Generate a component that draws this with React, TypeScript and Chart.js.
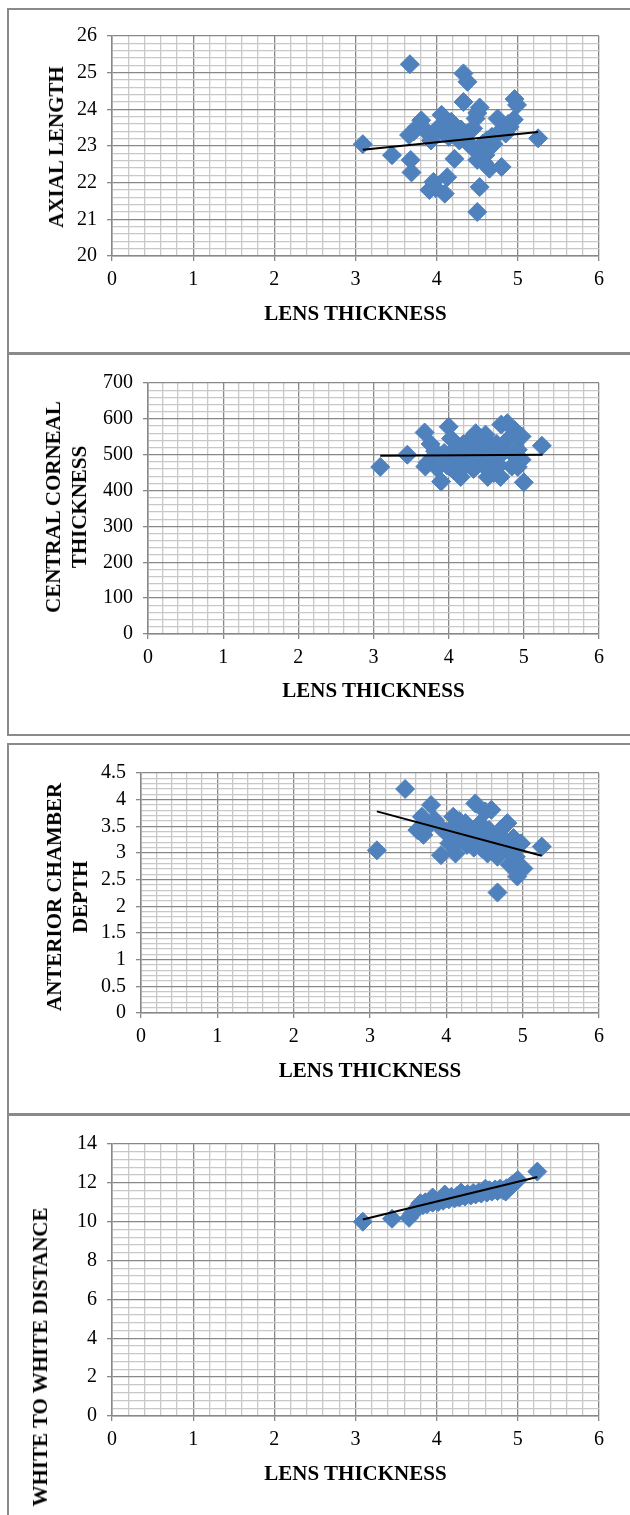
import React, { useRef, useEffect } from 'react';
import { Chart, registerables } from 'chart.js';

Chart.register(...registerables);

// Lens thickness vs axial length
const alLens = [3.09, 3.45, 3.67, 3.68, 3.69, 3.66, 3.72, 3.76, 3.81, 3.85, 3.88, 3.93, 3.91, 3.96, 3.99, 4.03, 4.06, 4.09, 4.10, 4.13, 4.15, 4.18, 4.20, 4.22, 4.25, 4.28, 4.30, 4.33, 4.38, 4.33, 4.38, 4.40, 4.43, 4.45, 4.48, 4.50, 4.53, 4.50, 4.53, 4.50, 4.55, 4.57, 4.60, 4.62, 4.65, 4.68, 4.70, 4.75, 4.78, 4.80, 4.85, 4.88, 4.90, 4.95, 4.96, 4.99, 5.25, 4.58, 4.12, 3.98];
const axialLength = [23.05, 22.75, 25.23, 22.62, 22.28, 23.30, 23.40, 23.52, 23.70, 23.45, 23.38, 23.15, 21.80, 22.02, 21.85, 23.52, 23.85, 23.35, 21.70, 22.15, 23.25, 23.66, 23.45, 22.65, 23.35, 23.15, 23.45, 24.98, 24.75, 24.20, 23.35, 23.05, 22.98, 23.48, 23.75, 23.90, 24.05, 22.62, 21.88, 21.20, 22.80, 23.07, 22.75, 23.16, 22.38, 23.25, 23.05, 23.75, 23.40, 22.43, 23.34, 23.60, 23.52, 23.72, 24.28, 24.12, 23.21, 22.55, 23.55, 23.40];
const alTrendLens = [3.09, 5.25];
const alTrend = [22.9, 23.38];

// Lens thickness vs central corneal thickness
const cctLens = [3.09, 3.45, 3.68, 3.69, 3.72, 3.76, 3.79, 3.82, 3.85, 3.90, 3.90, 3.94, 4.00, 4.03, 4.05, 4.07, 4.10, 4.12, 4.16, 4.17, 4.20, 4.22, 4.25, 4.28, 4.30, 4.33, 4.36, 4.38, 4.40, 4.44, 4.46, 4.49, 4.52, 4.52, 4.54, 4.57, 4.60, 4.62, 4.64, 4.67, 4.69, 4.70, 4.74, 4.78, 4.81, 4.84, 4.86, 4.88, 4.92, 4.92, 4.97, 4.97, 5.00, 5.24, 4.14, 4.58, 4.35, 3.98];
const cct = [466, 500, 562, 467, 478, 530, 492, 510, 462, 425, 478, 505, 578, 545, 490, 456, 520, 449, 438, 514, 530, 470, 486, 505, 545, 460, 560, 523, 490, 477, 540, 556, 458, 438, 514, 480, 449, 495, 530, 470, 438, 584, 510, 588, 547, 467, 500, 568, 514, 466, 551, 486, 423, 525, 485, 525, 500, 470];
const cctTrendLens = [3.09, 5.25];
const cctTrend = [497, 500];

// Lens thickness vs anterior chamber depth
const acdLens = [3.09, 3.46, 3.62, 3.68, 3.70, 3.72, 3.80, 3.80, 3.85, 3.91, 3.93, 3.98, 4.04, 4.06, 4.09, 4.12, 4.14, 4.17, 4.20, 4.22, 4.25, 4.27, 4.30, 4.33, 4.36, 4.38, 4.41, 4.44, 4.46, 4.48, 4.51, 4.54, 4.56, 4.59, 4.60, 4.62, 4.65, 4.67, 4.67, 4.69, 4.72, 4.75, 4.77, 4.80, 4.83, 4.85, 4.88, 4.91, 4.93, 4.96, 4.98, 5.01, 5.25, 4.44, 4.12];
const acd = [3.05, 4.20, 3.43, 3.68, 3.34, 3.52, 3.90, 3.56, 3.62, 3.50, 2.96, 3.40, 3.18, 3.45, 3.68, 2.99, 3.37, 3.60, 3.25, 3.50, 3.56, 3.15, 3.35, 3.43, 3.10, 3.93, 3.31, 3.55, 3.09, 3.40, 3.78, 2.99, 3.43, 3.81, 3.20, 3.25, 3.05, 2.93, 2.26, 3.34, 3.45, 3.15, 3.12, 3.56, 2.78, 3.00, 3.28, 2.93, 2.56, 2.74, 3.18, 2.71, 3.12, 3.25, 3.20];
const acdTrendLens = [3.09, 5.25];
const acdTrend = [3.78, 2.95];

// Lens thickness vs white to white distance
const wtwLens = [3.09, 3.45, 3.66, 3.70, 3.74, 3.78, 3.80, 3.83, 3.86, 3.88, 3.92, 3.95, 3.98, 4.02, 4.05, 4.08, 4.12, 4.15, 4.18, 4.22, 4.25, 4.28, 4.32, 4.35, 4.38, 4.42, 4.45, 4.48, 4.52, 4.55, 4.58, 4.62, 4.65, 4.68, 4.72, 4.75, 4.78, 4.82, 4.86, 4.90, 4.93, 4.96, 5.00, 5.24, 4.10, 4.30, 4.60, 4.85, 3.95];
const wtw = [10.00, 10.15, 10.20, 10.42, 10.60, 10.80, 10.95, 10.85, 11.00, 10.90, 11.05, 10.98, 11.10, 11.02, 11.15, 11.08, 11.22, 11.15, 11.28, 11.20, 11.32, 11.25, 11.38, 11.30, 11.42, 11.35, 11.48, 11.40, 11.52, 11.45, 11.58, 11.50, 11.62, 11.55, 11.66, 11.58, 11.70, 11.62, 11.72, 11.80, 11.90, 12.00, 12.15, 12.58, 11.40, 11.50, 11.70, 11.55, 11.25];
const wtwTrendLens = [3.09, 5.24];
const wtwTrend = [10.11, 12.3];

const xTickLabels = [0, 1, 2, 3, 4, 5, 6];

const GRID_MAJOR = '#888888';
const GRID_MINOR = '#c8c8c8';
const MARKER = '#4f81bd';
const SERIF = '"Liberation Serif", "Times New Roman", serif';
const X_SCALE_H = 40;

const isStep = (v: number, step: number) => Math.abs(v / step - Math.round(v / step)) < 1e-6;

interface PanelProps {
  top: number;
  height: number;
  plot: { left: number; right: number; top: number; bottom: number };
  lens: number[];
  values: number[];
  trendLens: number[];
  trendValues: number[];
  yMin: number;
  yMax: number;
  yMajor: number;
  yMinor: number;
  yTitle: string[];
  yTitleX: number;
  yTitleY: number;
  xTitleY: number;
  bottomBorder: boolean;
}

const ScatterPanel: React.FC<PanelProps> = (p) => {
  const canvasRef = useRef<HTMLCanvasElement>(null);

  useEffect(() => {
    const ctx = canvasRef.current?.getContext('2d');
    if (!ctx) return;

    const chart = new Chart(ctx, {
      type: 'scatter',
      data: {
        datasets: [
          {
            // trend line drawn on top of the markers
            data: p.trendLens.map((x, i) => ({ x, y: p.trendValues[i] })),
            showLine: true,
            borderColor: '#000',
            borderWidth: 2,
            pointRadius: 0,
          },
          {
            data: p.lens.map((x, i) => ({ x, y: p.values[i] })),
            pointStyle: 'rectRot',
            pointRadius: 9.5,
            backgroundColor: MARKER,
            borderColor: MARKER,
            borderWidth: 1,
          },
        ],
      },
      options: {
        animation: false,
        responsive: true,
        maintainAspectRatio: false,
        layout: {
          padding: {
            left: 0,
            top: p.plot.top - p.top,
            right: 630 - p.plot.right,
            bottom: p.top + p.height - p.plot.bottom - X_SCALE_H,
          },
        },
        plugins: { legend: { display: false }, tooltip: { enabled: false } },
        scales: {
          x: {
            type: 'linear',
            min: 0,
            max: 6,
            afterFit: (s: any) => { s.height = X_SCALE_H; },
            ticks: {
              stepSize: 0.2,
              maxTicksLimit: 1000,
              autoSkip: false,
              maxRotation: 0,
              padding: 7,
              color: '#000',
              font: { family: SERIF, size: 20 },
              callback: (v: any) => (xTickLabels.some(t => Math.abs(t - v) < 1e-6) ? String(Math.round(v)) : ''),
            },
            grid: {
              color: (c: any) => (isStep(c.tick.value, 1) ? GRID_MAJOR : GRID_MINOR),
              lineWidth: 1.3,
              tickLength: 5,
              tickColor: (c: any) => (isStep(c.tick.value, 1) ? GRID_MAJOR : 'transparent'),
            },
            border: { color: GRID_MAJOR, width: 1.5 },
          },
          y: {
            type: 'linear',
            min: p.yMin,
            max: p.yMax,
            afterFit: (s: any) => { s.width = p.plot.left; },
            ticks: {
              stepSize: p.yMinor,
              maxTicksLimit: 1000,
              autoSkip: false,
              padding: 10,
              color: '#000',
              font: { family: SERIF, size: 20 },
              callback: (v: any) => (isStep(v, p.yMajor) ? String(Math.round(v * 100) / 100) : ''),
            },
            grid: {
              color: (c: any) => (isStep(c.tick.value, p.yMajor) ? GRID_MAJOR : GRID_MINOR),
              lineWidth: 1.3,
              tickLength: 5,
              tickColor: (c: any) => (isStep(c.tick.value, p.yMajor) ? GRID_MAJOR : 'transparent'),
            },
            border: { color: GRID_MAJOR, width: 1.5 },
          },
        },
      },
    });

    return () => chart.destroy();
  }, [p]);

  const titleFont: React.CSSProperties = {
    position: 'absolute',
    fontFamily: SERIF,
    fontWeight: 'bold',
    fontSize: 21,
    lineHeight: '26px',
    whiteSpace: 'nowrap',
    color: '#000',
    textAlign: 'center',
  };

  return (
    <>
      <div
        style={{
          position: 'absolute',
          left: 7,
          top: p.top,
          width: 640,
          height: p.height,
          boxSizing: 'border-box',
          borderLeft: '2px solid #8a8a8a',
          borderTop: '2px solid #8a8a8a',
          borderBottom: p.bottomBorder ? '2px solid #8a8a8a' : 'none',
        }}
      />
      <div style={{ position: 'absolute', left: 0, top: p.top, width: 630, height: p.height }}>
        <canvas ref={canvasRef} />
      </div>
      <div
        style={{
          ...titleFont,
          left: p.yTitleX,
          top: p.yTitleY,
          transform: 'translate(-50%, -50%) rotate(-90deg)',
        }}
      >
        {p.yTitle.map((line, i) => (
          <div key={i}>{line}</div>
        ))}
      </div>
      <div
        style={{
          ...titleFont,
          left: (p.plot.left + p.plot.right) / 2,
          top: p.xTitleY,
          transform: 'translate(-50%, -50%)',
        }}
      >
        LENS THICKNESS
      </div>
    </>
  );
};

const panels: PanelProps[] = [
  {
    top: 8, height: 346,
    plot: { left: 112, right: 599, top: 36, bottom: 256 },
    lens: alLens, values: axialLength, trendLens: alTrendLens, trendValues: alTrend,
    yMin: 20, yMax: 26, yMajor: 1, yMinor: 0.2,
    yTitle: ['AXIAL LENGTH'], yTitleX: 56, yTitleY: 147,
    xTitleY: 313, bottomBorder: true,
  },
  {
    top: 353, height: 383,
    plot: { left: 148, right: 599, top: 383, bottom: 634 },
    lens: cctLens, values: cct, trendLens: cctTrendLens, trendValues: cctTrend,
    yMin: 0, yMax: 700, yMajor: 100, yMinor: 20,
    yTitle: ['CENTRAL CORNEAL', 'THICKNESS'], yTitleX: 66, yTitleY: 507,
    xTitleY: 690, bottomBorder: true,
  },
  {
    top: 743, height: 372,
    plot: { left: 141, right: 599, top: 773, bottom: 1013 },
    lens: acdLens, values: acd, trendLens: acdTrendLens, trendValues: acdTrend,
    yMin: 0, yMax: 4.5, yMajor: 0.5, yMinor: 0.1,
    yTitle: ['ANTERIOR CHAMBER', 'DEPTH'], yTitleX: 67, yTitleY: 897,
    xTitleY: 1070, bottomBorder: true,
  },
  {
    top: 1114, height: 420,
    plot: { left: 112, right: 599, top: 1144, bottom: 1416 },
    lens: wtwLens, values: wtw, trendLens: wtwTrendLens, trendValues: wtwTrend,
    yMin: 0, yMax: 14, yMajor: 2, yMinor: 0.4,
    yTitle: ['WHITE TO WHITE DISTANCE'], yTitleX: 40, yTitleY: 1357,
    xTitleY: 1473, bottomBorder: false,
  },
];

export default function App() {
  return (
    <div style={{ position: 'absolute', left: 0, top: 0, width: 630, height: 1515, overflow: 'hidden', background: '#fff' }}>
      {panels.map((p, i) => (
        <ScatterPanel key={i} {...p} />
      ))}
    </div>
  );
}
